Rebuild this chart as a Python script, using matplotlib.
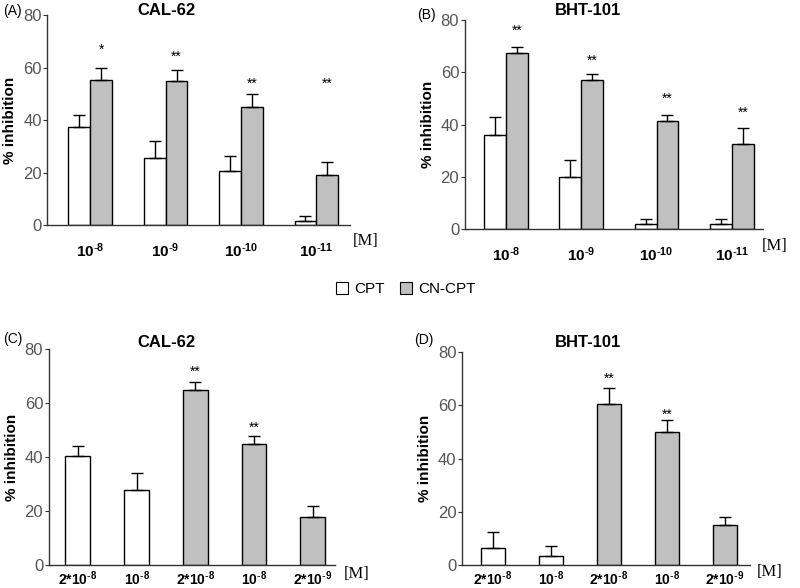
import numpy as np
import matplotlib
matplotlib.use("Agg")
import matplotlib.pyplot as plt
from matplotlib.patches import Patch

plt.rcParams['font.family'] = ['Liberation Sans', 'DejaVu Sans']
plt.rcParams['mathtext.default'] = 'regular'

# --- data -------------------------------------------------------------
conc_top = ['10$^{\\text{-}8}$', '10$^{\\text{-}9}$',
            '10$^{\\text{-}10}$', '10$^{\\text{-}11}$']

cal_cpt = [37.5, 25.5, 20.5, 1.5]
cal_cpt_err = [4.5, 6.5, 6.0, 2.0]
cal_cn = [55.5, 55.0, 45.0, 19.0]
cal_cn_err = [4.5, 4.0, 5.0, 5.0]
cal_stars = ['*', '**', '**', '**']
cal_star_y = [67, 64, 54, 54]

bht_cpt = [36.0, 20.0, 2.0, 2.0]
bht_cpt_err = [7.0, 6.5, 2.0, 2.0]
bht_cn = [67.5, 57.0, 41.5, 32.5]
bht_cn_err = [2.0, 2.5, 2.0, 6.0]
bht_stars = ['**', '**', '**', '**']
bht_star_y = [76, 64.5, 50, 44.5]

conc_bottom = ['2*10$^{\\text{-}8}$', '10$^{\\text{-}8}$', '2*10$^{\\text{-}8}$',
               '10$^{\\text{-}8}$', '2*10$^{\\text{-}9}$']
drug_bottom = ['CPT', 'CPT', 'CN-CPT', 'CN-CPT', 'CN-CPT']

cal2_vals = [40.5, 28.0, 65.0, 45.0, 18.0]
cal2_err = [3.5, 6.0, 3.0, 3.0, 4.0]
cal2_stars = ['', '', '**', '**', '']
cal2_star_y = [0, 0, 71.5, 51, 0]

bht2_vals = [6.5, 3.5, 60.5, 50.0, 15.0]
bht2_err = [6.0, 3.5, 6.0, 4.5, 3.0]
bht2_stars = ['', '', '**', '**', '']
bht2_star_y = [0, 0, 70, 56.5, 0]

colors = {'CPT': 'white', 'CN-CPT': '#c0c0c0'}

# --- figure -----------------------------------------------------------
fig = plt.figure(figsize=(8, 5.88), dpi=100)


def style_axes(ax, xlim):
    ax.set_ylim(0, 80)
    ax.set_yticks([0, 20, 40, 60, 80])
    ax.set_xlim(*xlim)
    for s in ['top', 'right']:
        ax.spines[s].set_visible(False)
    for s in ['left', 'bottom']:
        ax.spines[s].set_color('#333333')
        ax.spines[s].set_linewidth(1.0)
    ax.tick_params(axis='y', length=3, labelsize=12, colors='#333333',
                   labelcolor='#555555', pad=1)
    ax.tick_params(axis='x', length=0)
    ax.set_ylabel('% inhibition', fontsize=11, fontweight='bold', labelpad=4)


def err(ax, x, vals, errs):
    ax.errorbar(x, vals, yerr=[np.zeros(len(vals)), errs], fmt='none',
                ecolor='black', elinewidth=1, capsize=4, capthick=1)


def top_panel(rect, cpt, cpt_err, cn, cn_err, stars, star_y, xlim, w=0.29):
    ax = fig.add_axes(rect)
    x = np.arange(len(cpt))
    ax.bar(x - w / 2, cpt, w, color=colors['CPT'], edgecolor='black', lw=1)
    ax.bar(x + w / 2, cn, w, color=colors['CN-CPT'], edgecolor='black', lw=1)
    err(ax, x - w / 2, cpt, cpt_err)
    err(ax, x + w / 2, cn, cn_err)
    for xi, s, sy in zip(x, stars, star_y):
        ax.text(xi + w / 2, sy, s, ha='center', va='center', fontsize=10)
    ax.set_xticks(x)
    ax.set_xticklabels(conc_top, fontsize=11, fontweight='bold')
    ax.tick_params(axis='x', pad=12)
    style_axes(ax, xlim)
    return ax


def bottom_panel(rect, vals, errs, stars, star_y, xlim, w):
    ax = fig.add_axes(rect)
    x = np.arange(len(vals))
    ax.bar(x, vals, w, color=[colors[d] for d in drug_bottom],
           edgecolor='black', lw=1)
    err(ax, x, vals, errs)
    for xi, s, sy in zip(x, stars, star_y):
        if s:
            ax.text(xi, sy, s, ha='center', va='center', fontsize=10)
    ax.set_xticks(x)
    ax.set_xticklabels(conc_bottom, fontsize=10, fontweight='bold')
    ax.tick_params(axis='x', pad=3)
    style_axes(ax, xlim)
    return ax


axA = top_panel([0.059, 0.617, 0.379, 0.357], cal_cpt, cal_cpt_err, cal_cn,
                cal_cn_err, cal_stars, cal_star_y, (-0.571, 3.451))
axB = top_panel([0.581, 0.6105, 0.3725, 0.3555], bht_cpt, bht_cpt_err, bht_cn,
                bht_cn_err, bht_stars, bht_star_y, (-0.544, 3.41))
axC = bottom_panel([0.061, 0.039, 0.3575, 0.367], cal2_vals, cal2_err,
                   cal2_stars, cal2_star_y, (-0.494, 4.374), 0.42)
axD = bottom_panel([0.5775, 0.039, 0.36, 0.362], bht2_vals, bht2_err,
                   bht2_stars, bht2_star_y, (-0.534, 4.43), 0.40)

# panel letters, titles and units
for lab, title, lx, ly, tx, ty in [('(A)', 'CAL-62', 0.004, 0.982, 0.208, 0.982),
                                   ('(B)', 'BHT-101', 0.522, 0.975, 0.735, 0.982),
                                   ('(C)', 'CAL-62', 0.004, 0.424, 0.208, 0.418),
                                   ('(D)', 'BHT-101', 0.518, 0.422, 0.735, 0.418)]:
    fig.text(lx, ly, lab, fontsize=10, va='center', ha='left')
    fig.text(tx, ty, title, fontsize=12, fontweight='bold', va='center',
             ha='center')

for x, y in [(0.457, 0.59), (0.968, 0.582), (0.446, 0.024), (0.962, 0.027)]:
    fig.text(x, y, '[M]', fontsize=12, family='Liberation Serif',
             ha='center', va='center')

handles = [Patch(facecolor=colors['CPT'], edgecolor='black', lw=0.8),
           Patch(facecolor=colors['CN-CPT'], edgecolor='black', lw=0.8)]
fig.legend(handles, ['CPT', 'CN-CPT'], loc='center', ncol=2,
           bbox_to_anchor=(0.507, 0.508), frameon=False, fontsize=11,
           handlelength=0.8, handleheight=0.8, handletextpad=0.4,
           columnspacing=1.0)

fig.savefig('out.png', dpi=100)
